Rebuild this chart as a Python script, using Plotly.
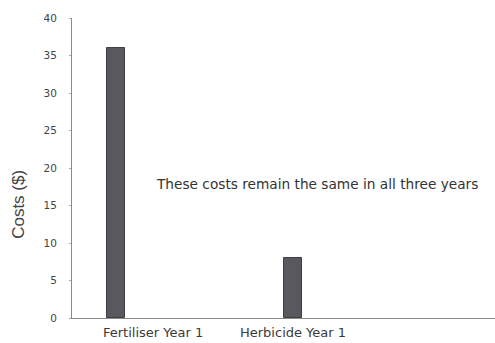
import plotly.graph_objects as go

# Cost per item in the first year
categories = ["Fertiliser Year 1", "Herbicide Year 1"]
costs = [36, 8]

y_ticks = [0, 5, 10, 15, 20, 25, 30, 35, 40]
note = "These costs remain the same in all three years"
y_title = "Costs ($)"

FONT = "DejaVu Sans, Arial, sans-serif"
ARIAL = "Liberation Sans, Arial, sans-serif"

fig = go.Figure()
fig.add_trace(go.Bar(
    x=categories,
    y=costs,
    width=0.1,
    marker=dict(color="#58585e", line=dict(color="#3e3e44", width=1)),
    showlegend=False,
))

# category labels beneath the axis (first one sits to the right of its bar)
label_shift = [37, 0]
for cat, dx in zip(categories, label_shift):
    fig.add_annotation(
        x=cat, y=0, xref="x", yref="y",
        text=cat, showarrow=False,
        yanchor="top", yshift=-5, xshift=dx,
        font=dict(family=FONT, size=13, color="#3a3a3a"),
    )

fig.add_annotation(
    x=0.58, y=0.447, xref="paper", yref="paper",
    text=note, showarrow=False, xanchor="center", yanchor="middle",
    font=dict(family=FONT, size=13.7, color="#333333"),
)

# vertical axis title, set lower than the plot centre
fig.add_annotation(
    x=-0.128, y=0.38, xref="paper", yref="paper",
    text=y_title, showarrow=False, textangle=-90,
    xanchor="center", yanchor="middle",
    font=dict(family=ARIAL, size=17, color="#444444"),
)

fig.update_layout(
    width=495, height=343,
    margin=dict(l=72, r=0, t=18, b=25),
    paper_bgcolor="white", plot_bgcolor="white",
    bargap=0,
    xaxis=dict(
        type="category", range=[-0.25, 2.14],
        showticklabels=False, ticks="",
        showline=True, linecolor="#8a8a8a", linewidth=1,
        showgrid=False, zeroline=False,
    ),
    yaxis=dict(
        range=[0, 40], tickvals=y_ticks,
        ticks="outside", ticklen=2, tickcolor="#aaaaaa",
        ticklabelstandoff=10,
        tickfont=dict(family=FONT, size=10.5, color="#444444"),
        showline=True, linecolor="#8a8a8a", linewidth=1,
        showgrid=False, zeroline=False,
    ),
)

fig.write_html("out.html")
